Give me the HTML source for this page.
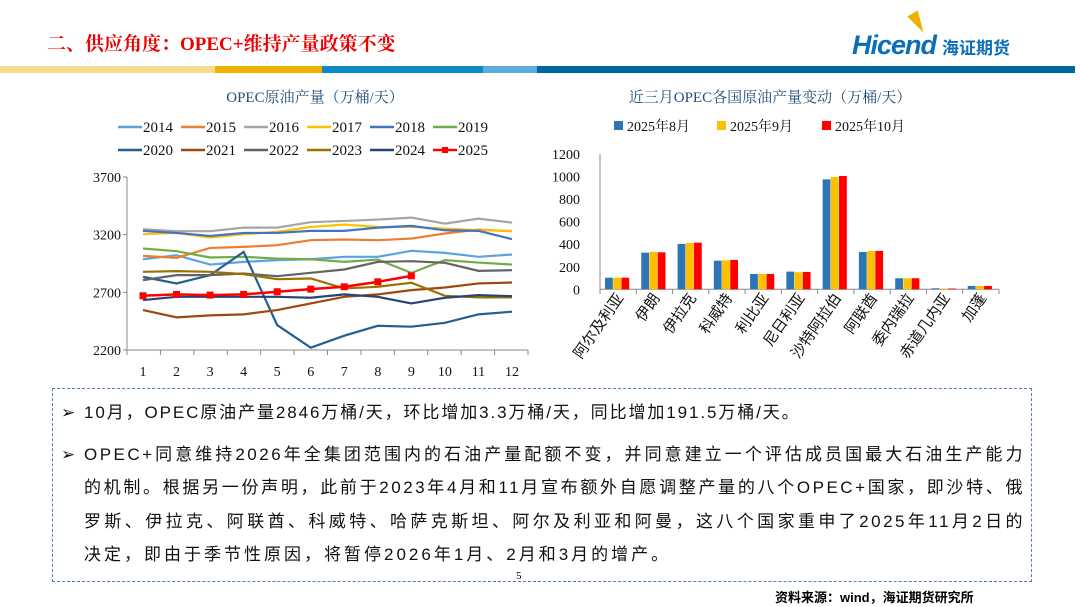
<!DOCTYPE html>
<html><head><meta charset="utf-8"><style>
body{margin:0;width:1080px;height:607px;background:#fff;position:relative;overflow:hidden;font-family:"Liberation Serif","Noto Serif CJK SC",serif}
.abs{position:absolute}
.txt{font-family:"Liberation Sans","Noto Sans CJK SC",sans-serif;font-size:17px;color:#111;white-space:nowrap;letter-spacing:2.5px;line-height:20px}
.j{text-align:justify;text-align-last:justify;width:941px;left:84px}
</style></head><body>
<div class="abs" style="left:47px;top:29px;font-size:19px;font-weight:bold;color:#e00;font-family:'Liberation Serif','Noto Serif CJK SC',serif">二、供应角度：OPEC+维持产量政策不变</div>
<div class="abs" style="left:852px;top:30px;font-family:'Liberation Sans',sans-serif;font-size:27px;font-weight:bold;font-style:italic;color:#0a6fb8;letter-spacing:-1px">Hicend<span style="font-size:17px;font-style:normal;font-family:'Noto Sans CJK SC',sans-serif;letter-spacing:0;margin-left:6px">海证期货</span></div>
<div class="abs" style="left:912px;top:12px;width:0;height:0;border-left:6px solid transparent;border-right:6px solid transparent;border-top:22px solid #f0b000;transform:rotate(-30deg)"></div>
<div class="abs" style="left:0;top:66px;width:1075px;height:7px;display:flex">
<div style="width:215px;background:#f9dc8a"></div><div style="width:107px;background:#f0b000"></div><div style="width:161px;background:#0a8ac8"></div><div style="width:54px;background:#5aaede"></div><div style="flex:1;background:#0066a0"></div></div>

<svg class="abs" style="left:0;top:0" width="1080" height="390" id="svg"></svg>

<div class="abs" style="left:52px;top:388px;width:978px;height:192px;border:1.5px dashed #4f7fc0"></div>
<div class="abs txt" style="left:61px;top:403px">➢</div>
<div class="abs txt" style="left:84px;top:403px;letter-spacing:1.9px">10月，OPEC原油产量2846万桶/天，环比增加3.3万桶/天，同比增加191.5万桶/天。</div>
<div class="abs txt" style="left:61px;top:445px">➢</div>
<div class="abs txt j" style="top:445px">OPEC+同意维持2026年全集团范围内的石油产量配额不变，并同意建立一个评估成员国最大石油生产能力</div>
<div class="abs txt j" style="top:478px">的机制。根据另一份声明，此前于2023年4月和11月宣布额外自愿调整产量的八个OPEC+国家，即沙特、俄</div>
<div class="abs txt j" style="top:512px">罗斯、伊拉克、阿联酋、科威特、哈萨克斯坦、阿尔及利亚和阿曼，这八个国家重申了2025年11月2日的</div>
<div class="abs txt" style="left:84px;top:545px;letter-spacing:3px">决定，即由于季节性原因，将暂停2026年1月、2月和3月的增产。</div>
<div class="abs" style="left:516px;top:570px;font-size:11px">5</div>
<div class="abs" style="left:775px;top:587px;font-size:13px;font-weight:bold;font-family:'Liberation Sans','Noto Sans CJK SC',sans-serif">资料来源：wind，海证期货研究所</div>

<script>
const months=[1,2,3,4,5,6,7,8,9,10,11,12];
const years=['2014','2015','2016','2017','2018','2019','2020','2021','2022','2023','2024','2025'];
const lineColors=['#5ba3dc','#ed7d31','#a5a5a5','#ffc000','#4472c4','#70ad47','#255e91','#9e480e','#636363','#997300','#264478','#ff0000'];
const s2014=[2987,3022,2941,2964,2979,2987,3008,3008,3060,3042,3008,3028];
const s2015=[3016,2999,3085,3094,3109,3152,3158,3152,3166,3210,3244,3230];
const s2016=[3247,3230,3230,3261,3261,3308,3319,3331,3348,3296,3339,3305];
const s2017=[3204,3215,3175,3204,3224,3267,3287,3267,3267,3253,3238,3233];
const s2018=[3233,3215,3189,3215,3215,3233,3233,3261,3276,3238,3233,3161];
const s2019=[3080,3057,3002,3008,2993,2987,2964,2984,2869,2979,2958,2941];
const s2020=[2834,2777,2849,3051,2416,2220,2324,2410,2402,2436,2509,2532];
const s2021=[2546,2483,2500,2509,2546,2604,2661,2682,2719,2742,2777,2785];
const s2022=[2806,2849,2849,2863,2840,2869,2898,2964,2970,2956,2886,2892];
const s2023=[2878,2884,2878,2858,2814,2820,2734,2748,2783,2670,2656,2656];
const s2024=[2633,2661,2661,2661,2661,2653,2682,2661,2604,2653,2676,2667];
const s2025=[2670,2682,2676,2682,2705,2728,2748,2791,2843];
const leftTicks=[2200,2700,3200,3700];

const countries=['阿尔及利亚','伊朗','伊拉克','科威特','利比亚','尼日利亚','沙特阿拉伯','阿联酋','委内瑞拉','赤道几内亚','加蓬'];
const aug=[103,325,402,254,136,157,975,331,98,9,30];
const sep=[103,332,411,257,136,151,996,340,98,7,30];
const oct=[103,328,414,260,136,154,1005,340,98,7,30];
const barSeries=['2025年8月','2025年9月','2025年10月'];
const barColors=['#2e75b6','#ffc000','#ff0000'];
const rightTicks=[0,200,400,600,800,1000,1200];

const svg=document.getElementById('svg');const NS='http://www.w3.org/2000/svg';
function mk(t,a,txt){const e=document.createElementNS(NS,t);for(const k in a)e.setAttribute(k,a[k]);if(txt!=null)e.textContent=txt;svg.appendChild(e);return e;}
const lx=m=>143+(m-1)*(369/11);
const ly=v=>350-(v-2200)/1500*173;
let e;
e=mk('text',{x:315,y:102,'text-anchor':'middle','font-size':15,fill:'#1f4e79'},'OPEC原油产量（万桶/天）');

e=mk('line',{x1:127,y1:177,x2:127,y2:350,stroke:'#888'});
e=mk('line',{x1:127,y1:350,x2:528,y2:350,stroke:'#888'});
leftTicks.forEach(t=>{e=mk('text',{x:121,y:ly(t)+5,'text-anchor':'end','font-size':14,fill:'#111'},t);
 mk('line',{x1:123,x2:127,y1:ly(t),y2:ly(t),stroke:'#888'});});
for(let i=0;i<=12;i++){const x=127+i*(401/12);mk('line',{x1:x,x2:x,y1:350,y2:355,stroke:'#888'});}
months.forEach(m=>{e=mk('text',{x:lx(m),y:376,'text-anchor':'middle','font-size':14,fill:'#111'},m);});
const allS=[s2014,s2015,s2016,s2017,s2018,s2019,s2020,s2021,s2022,s2023,s2024,s2025];
allS.forEach((s,i)=>{const pts=s.map((v,j)=>lx(months[j])+','+ly(v)).join(' ');
 e=mk('polyline',{points:pts,fill:'none',stroke:lineColors[i],'stroke-width':i==11?2.5:2.2});
 
 if(i==11)s.forEach((v,j)=>{e=mk('rect',{x:lx(months[j])-3.5,y:ly(v)-3.5,width:7,height:7,fill:'#ff0000'});});
 const row=i<6?0:1,col=i%6;const x=118+col*63,y=127+row*23;
 e=mk('line',{x1:x,x2:x+24,y1:y,y2:y,stroke:lineColors[i],'stroke-width':2.5});
 if(i==11){mk('rect',{x:x+9,y:y-3,width:6,height:6,fill:'#ff0000'});}
 e=mk('text',{x:x+25,y:y+5,'font-size':15,fill:'#111'},years[i]);
});
const bw=399/11;
const rx=i=>600+i*bw;
const ry=v=>289.3-v/1200*135.3;
e=mk('text',{x:770,y:102,'text-anchor':'middle','font-size':15,fill:'#1f4e79'},'近三月OPEC各国原油产量变动（万桶/天）');

e=mk('line',{x1:600,y1:154,x2:600,y2:289.3,stroke:'#888'});
e=mk('line',{x1:600,y1:289.3,x2:999,y2:289.3,stroke:'#888'});
rightTicks.forEach(t=>{e=mk('text',{x:580,y:ry(t)+5,'text-anchor':'end','font-size':14,fill:'#111'},t);});
for(let i=0;i<=11;i++)mk('line',{x1:rx(i),x2:rx(i),y1:289.3,y2:294,stroke:'#888'});
[aug,sep,oct].forEach((s,k)=>{s.forEach((v,i)=>{const x=rx(i)+5+k*8.2;
 e=mk('rect',{x:x,y:ry(v),width:7.8,height:289.3-ry(v),fill:barColors[k]});});
 const lxp=[614,717,822][k];
 e=mk('rect',{x:lxp,y:121,width:9,height:9,fill:barColors[k]});
 e=mk('text',{x:lxp+13,y:131,'font-size':14,fill:'#111'},barSeries[k]);
});
countries.forEach((c,i)=>{const x=rx(i)+bw/2+6,y=298;
 e=mk('text',{x:x,y:y,'text-anchor':'end','font-size':15,fill:'#111',transform:`rotate(-55 ${x} ${y})`,'font-family':'Liberation Sans,Noto Sans CJK SC,sans-serif'},c);
 });
</script>
</body></html>
